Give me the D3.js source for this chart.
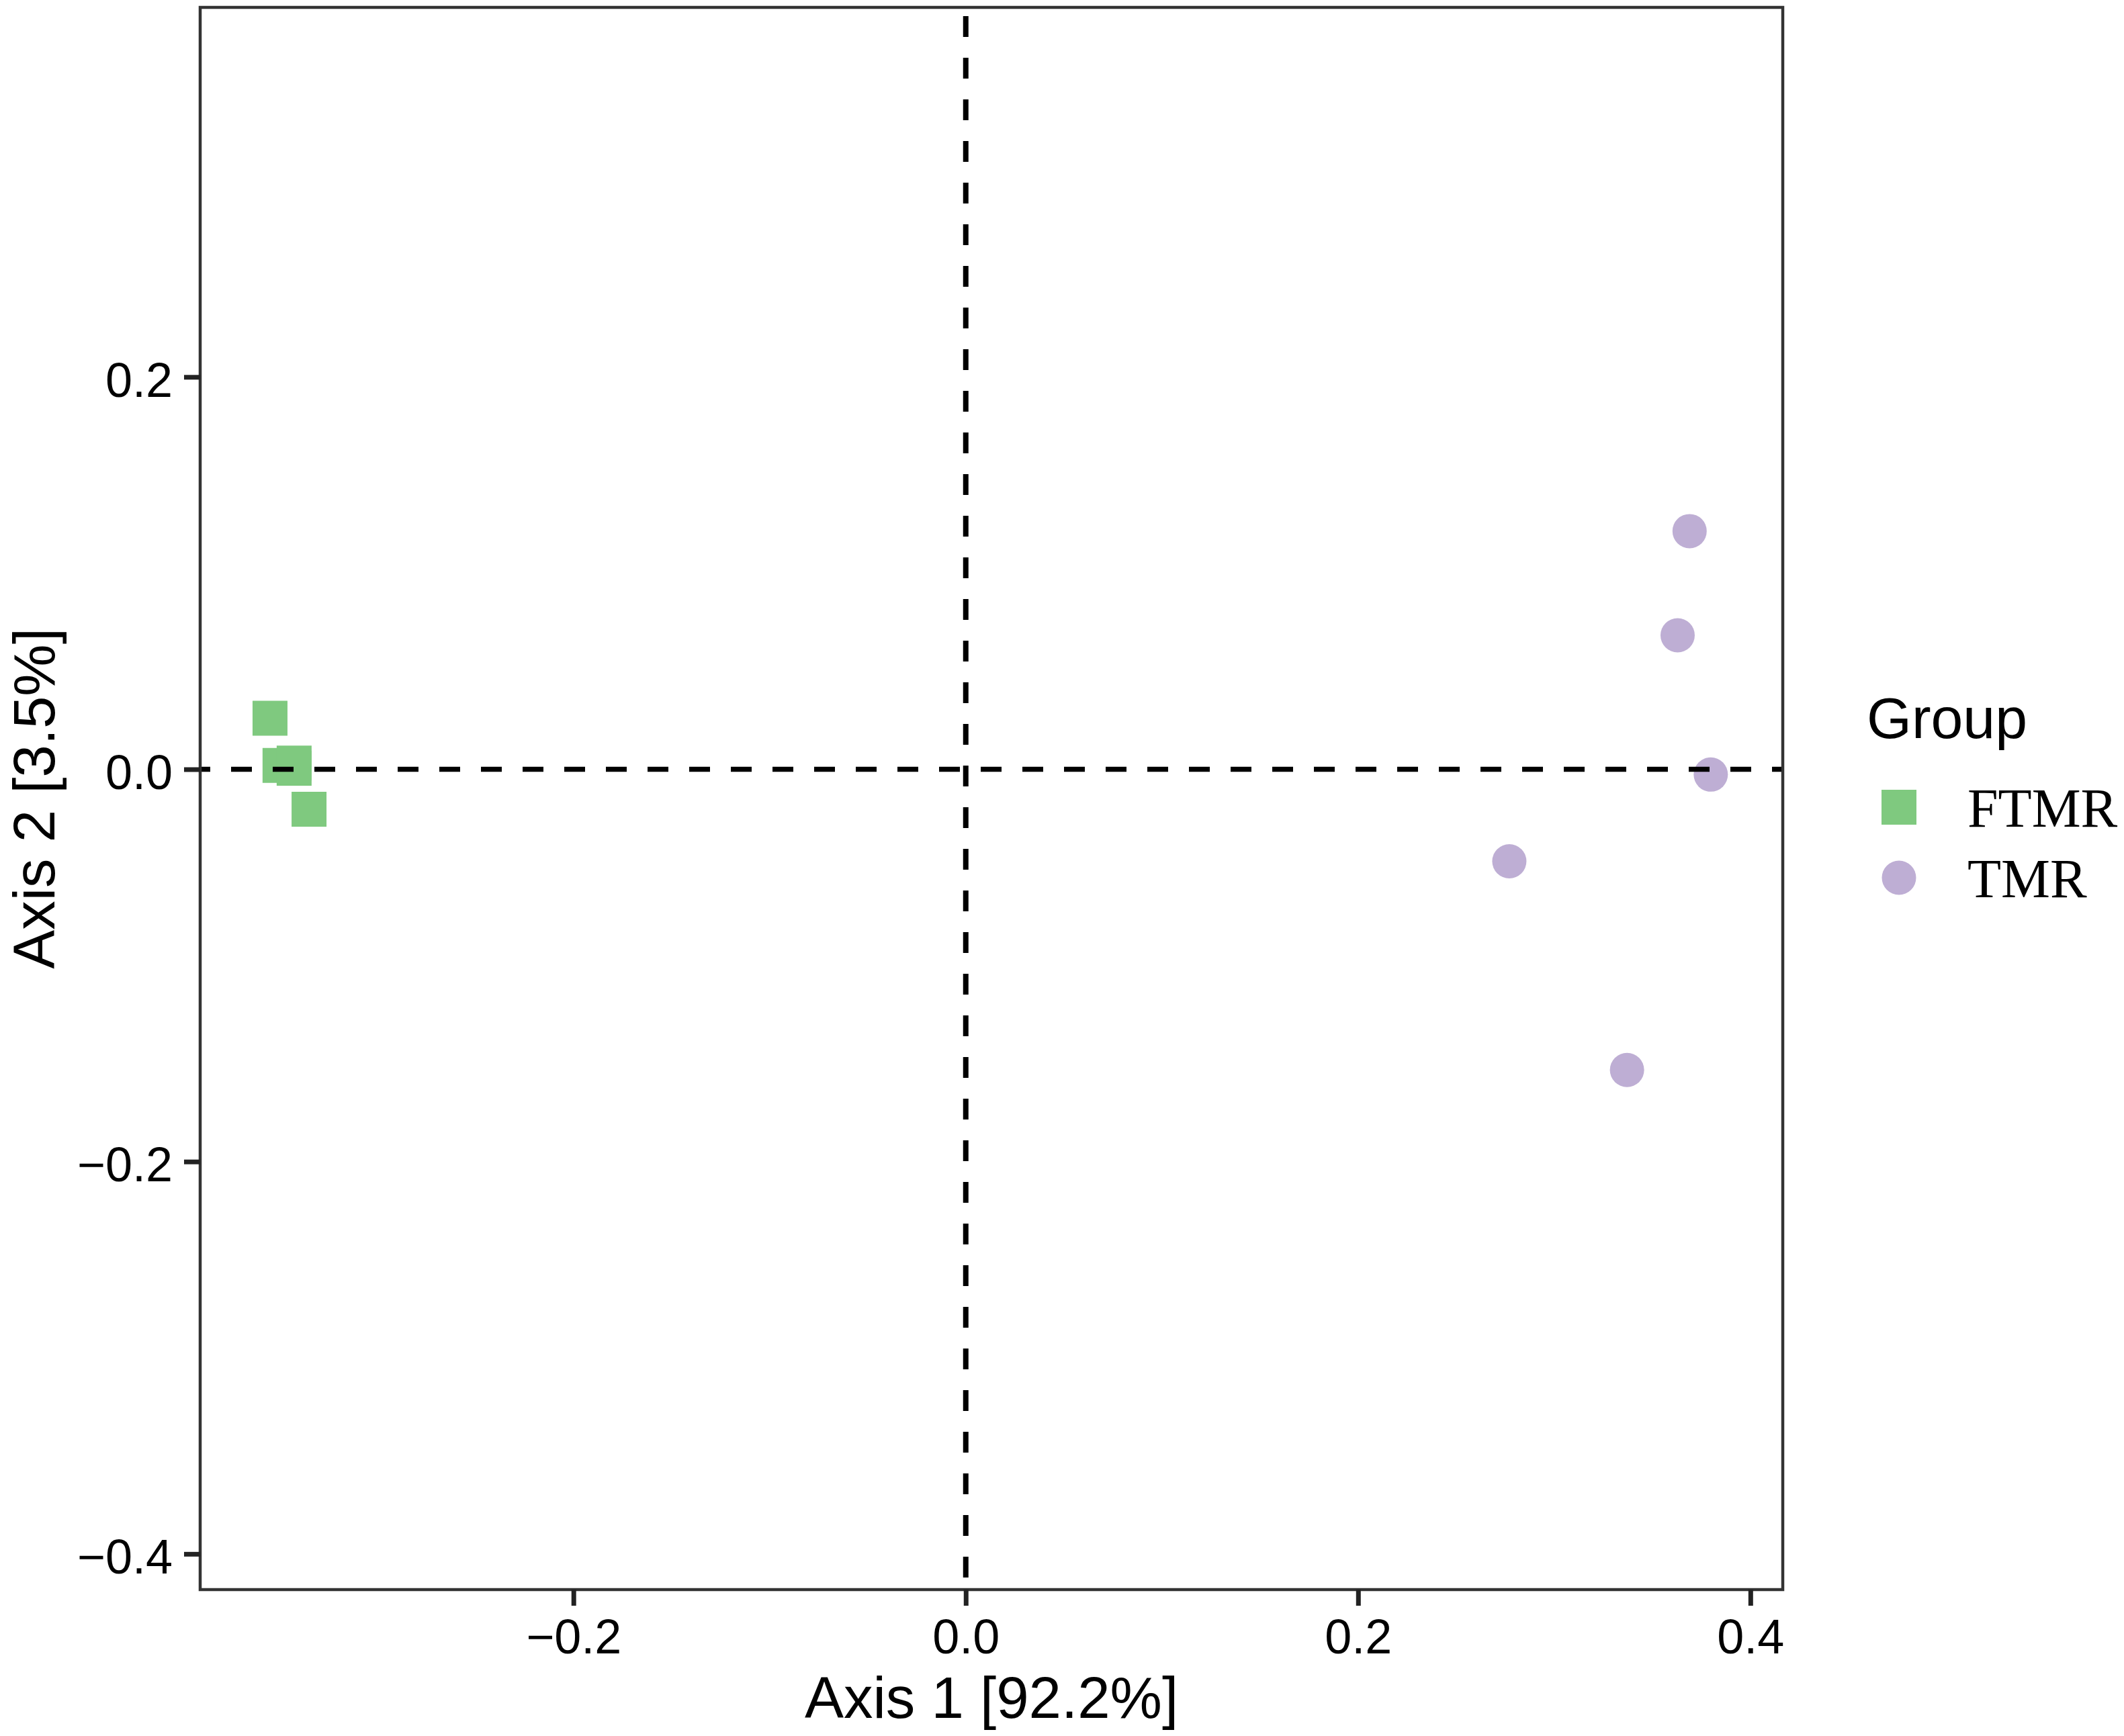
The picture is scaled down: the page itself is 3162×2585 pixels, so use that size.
<!DOCTYPE html>
<html lang="en">
<head>
<meta charset="utf-8">
<script src="https://d3js.org/d3.v7.min.js"></script>
<style>
  body { margin: 0; background: #fff; }
  svg { display: block; }
</style>
</head>
<body>
<script>
// data
const groups = ["FTMR", "TMR"];
const ftmrX = [-0.3547, -0.3496, -0.3424, -0.3424, -0.3348];
const ftmrY = [0.0260, 0.0020, 0.0032, 0.0005, -0.0204];
const tmrX = [0.3690, 0.3629, 0.3798, 0.2771, 0.3371];
const tmrY = [0.1214, 0.0683, -0.0027, -0.0469, -0.1533];
const xTicks = [-0.2, 0.0, 0.2, 0.4];
const yTicks = [-0.4, -0.2, 0.0, 0.2];
const xTitle = "Axis 1 [92.2%]";
const yTitle = "Axis 2 [3.5%]";

const W = 3162, H = 2585;
const pLeft = 298, pRight = 2654, pTop = 11, pBottom = 2367;
const sans = "'Liberation Sans', Arial, Helvetica, sans-serif";
const serif = "'Liberation Serif', 'Times New Roman', serif";
const color = d3.scaleOrdinal().domain(groups).range(["#7FC97F", "#BEAED4"]);
const shape = d3.scaleOrdinal().domain(groups).range([d3.symbolSquare, d3.symbolCircle]);
const symSize = { FTMR: 52 * 52, TMR: Math.PI * 25.5 * 25.5 };

const x = d3.scaleLinear().domain([-0.3903, 0.4165]).range([pLeft, pRight]);
const y = d3.scaleLinear().domain([-0.4182, 0.3884]).range([pBottom, pTop]);

const points = [];
ftmrX.forEach((v, i) => points.push({ g: "FTMR", x: v, y: ftmrY[i] }));
tmrX.forEach((v, i) => points.push({ g: "TMR", x: v, y: tmrY[i] }));

const svg = d3.select("body").append("svg")
  .attr("width", W).attr("height", H)
  .attr("viewBox", `0 0 ${W} ${H}`);

svg.append("rect").attr("width", W).attr("height", H).attr("fill", "#fff");

svg.append("clipPath").attr("id", "panel")
  .append("rect")
  .attr("x", pLeft).attr("y", pTop)
  .attr("width", pRight - pLeft).attr("height", pBottom - pTop);

const plot = svg.append("g").attr("clip-path", "url(#panel)");

// points
plot.selectAll("path.pt")
  .data(points)
  .enter()
  .append("path")
  .attr("class", "pt")
  .attr("transform", d => `translate(${x(d.x)},${y(d.y)})`)
  .attr("d", d => d3.symbol(shape(d.g), symSize[d.g])())
  .attr("fill", d => color(d.g));

// dashed reference lines at zero
plot.append("line")
  .attr("x1", pLeft).attr("x2", pRight)
  .attr("y1", y(0)).attr("y2", y(0))
  .attr("stroke", "#000").attr("stroke-width", 7.5)
  .attr("stroke-dasharray", "31,31").attr("stroke-dashoffset", 16);
plot.append("line")
  .attr("x1", x(0)).attr("x2", x(0))
  .attr("y1", pTop).attr("y2", pBottom)
  .attr("stroke", "#000").attr("stroke-width", 8)
  .attr("stroke-dasharray", "31,31").attr("stroke-dashoffset", 49);

// panel border
svg.append("rect")
  .attr("x", pLeft).attr("y", pTop)
  .attr("width", pRight - pLeft).attr("height", pBottom - pTop)
  .attr("fill", "none").attr("stroke", "#333").attr("stroke-width", 4.5);

const fmt = d3.format(".1f");

const xAxis = svg.append("g")
  .attr("transform", `translate(0,${pBottom})`)
  .call(d3.axisBottom(x).tickValues(xTicks).tickFormat(fmt).tickSize(24).tickPadding(20));
const yAxis = svg.append("g")
  .attr("transform", `translate(${pLeft},0)`)
  .call(d3.axisLeft(y).tickValues(yTicks).tickFormat(fmt).tickSize(24).tickPadding(17));

[xAxis, yAxis].forEach(a => {
  a.select(".domain").remove();
  a.selectAll(".tick line").attr("stroke", "#222").attr("stroke-width", 7);
  a.selectAll(".tick text")
    .attr("fill", "#000")
    .style("font-family", sans)
    .style("font-size", "72px");
});
yAxis.selectAll(".tick text").attr("dy", "0.4em");

// axis titles
svg.append("text")
  .attr("x", (pLeft + pRight) / 2).attr("y", 2558)
  .attr("text-anchor", "middle")
  .style("font-family", sans).style("font-size", "87px")
  .text(xTitle);
svg.append("text")
  .attr("transform", `translate(81,${(pTop + pBottom) / 2}) rotate(-90)`)
  .attr("text-anchor", "middle")
  .style("font-family", sans).style("font-size", "87px")
  .text(yTitle);

// legend
const legend = svg.append("g");
legend.append("text")
  .attr("x", 2779).attr("y", 1099)
  .style("font-family", sans).style("font-size", "86px")
  .text("Group");
const keyY = [1202, 1307];
const items = legend.selectAll("g.key")
  .data(groups)
  .enter()
  .append("g")
  .attr("class", "key")
  .attr("transform", (d, i) => `translate(2827,${keyY[i]})`);
items.append("path")
  .attr("d", d => d3.symbol(shape(d), symSize[d])())
  .attr("fill", d => color(d));
items.append("text")
  .attr("x", 102).attr("y", 29)
  .style("font-family", serif).style("font-size", "82px")
  .text(d => d);
</script>
</body>
</html>
